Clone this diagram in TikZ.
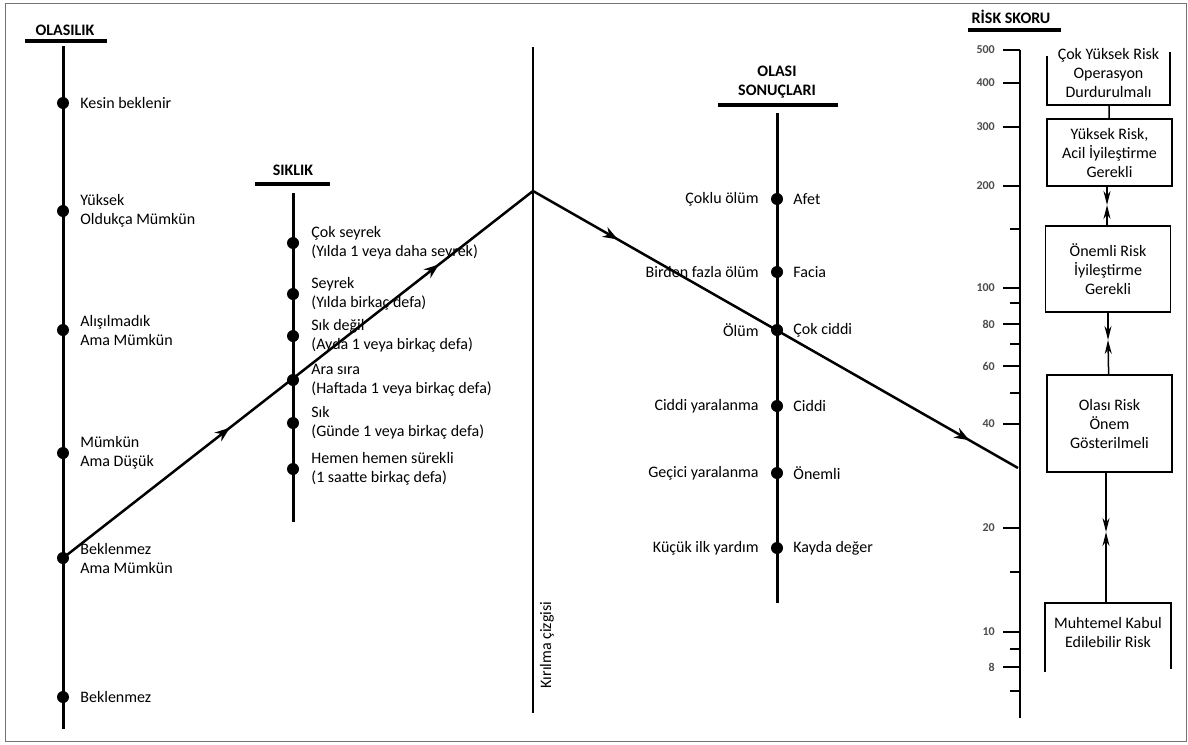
\documentclass[tikz,border=0pt]{standalone}
\usepackage{fontspec}
\setmainfont{Carlito}
\usetikzlibrary{positioning,arrows.meta,decorations.markings}

\begin{document}
\begin{tikzpicture}[x=1pt,y=-1pt,>=Stealth,
  every node/.style={font=\fontsize{16}{19}\selectfont},
  dot/.style={circle,fill,inner sep=0pt,minimum size=12pt},
  lbl/.style={inner sep=0pt,align=left},
  title/.style={font=\fontsize{16}{19}\selectfont\bfseries,inner sep=0pt,align=center},
  axis/.style={line width=3pt},
  uline/.style={line width=4pt},
  tick/.style={line width=2pt},
  tlbl/.style={font=\fontsize{12}{14}\selectfont\bfseries,text=black!70,anchor=east,inner sep=0pt},
  riskbox/.style={draw,line width=1.5pt,align=center,inner sep=0pt,minimum width=125pt},
  boxline/.style={line width=1.5pt},
  meet/.style={line width=1.5pt,-{Stealth[length=14pt,width=7pt]}},
  flow/.style 2 args={line width=2.5pt,postaction={decorate},decoration={markings,
    mark=at position #1 with {\arrow{Stealth[length=15pt,width=11pt]}},
    mark=at position #2 with {\arrow{Stealth[length=15pt,width=11pt]}}}}]

\useasboundingbox (0,0) rectangle (1188,744);
\draw[black!55,line width=1pt] (5,3) rectangle (1186,741);

% olasilik
\node[title] (tolas) at (65,30) {OLASILIK};
\draw[uline] (25,41) -- (107,41);
\draw[axis] (63,46) -- (63,729);
\foreach \nm/\y/\txt in {o1/103/{Kesin beklenir}, o2/211/{Yüksek\\Oldukça Mümkün},
    o3/330/{Alışılmadık\\Ama Mümkün}, o4/453/{Mümkün\\Ama Düşük},
    o5/558/{Beklenmez\\Ama Mümkün}, o6/697/{Beklenmez}}
  {\node[dot] (\nm) at (63,\y) {};
   \node[lbl,right=11pt of \nm] {\txt};}

% siklik
\node[title] (tsik) at (293,170) {SIKLIK};
\draw[uline] (255,184) -- (330,184);
\draw[axis] (293,193) -- (293,522);
\foreach \nm/\y/\txt in {s1/243/{Çok seyrek\\(Yılda 1 veya daha seyrek)},
    s2/294/{Seyrek\\(Yılda birkaç defa)}, s3/336/{Sık değil\\(Ayda 1 veya birkaç defa)},
    s4/380/{Ara sıra\\(Haftada 1 veya birkaç defa)}, s5/423/{Sık\\(Günde 1 veya birkaç defa)},
    s6/469/{Hemen hemen sürekli\\(1 saatte birkaç defa)}}
  {\node[dot] (\nm) at (293,\y) {};
   \node[lbl,right=12pt of \nm] {\txt};}

% kirilma cizgisi
\coordinate (kt) at (533,47);
\coordinate (kb) at (533,713);
\coordinate (apex) at (533,191);
\draw[line width=2pt] (kt) -- (kb);
\node[rotate=90,inner sep=0pt] (klbl) at (547,645) {Kırılma çizgisi};

% olasi sonuclari
\node[title] (tson) at (777,82) {OLASI\\SONUÇLARI};
\draw[uline] (718,105) -- (838,105);
\draw[axis] (777,113) -- (777,603);
\foreach \nm/\y/\lt/\rt in {c1/199/{Çoklu ölüm}/{Afet}, c2/272/{Birden fazla ölüm}/{Facia},
    c3/330/{Ölüm}/{Çok ciddi}, c4/406/{Ciddi yaralanma}/{Ciddi},
    c5/473/{Geçici yaralanma}/{Önemli}, c6/548/{Küçük ilk yardım}/{Kayda değer}}
  {\node[dot] (\nm) at (777,\y) {};
   \node[lbl,left=12pt of \nm] {\lt};
   \node[lbl,right=10pt of \nm] {\rt};}

% risk skoru
\node[title] (trisk) at (1011,17) {RİSK SKORU};
\draw[uline] (968,30) -- (1061,30);
\draw[axis,line width=2.5pt] (1020,50) -- (1020,718);
\coordinate (rend) at (1018,468);
\foreach \y/\v in {50/500,83/400,127/300,186/200,288/100,324/80,366/60,424/40,528/20,632/10,667/8}
  {\draw[tick] (1003,\y) -- (1020,\y);
   \node[tlbl] at (995,\y) {\v};}
\foreach \y in {229,303,344,393,572,649,691}
  \draw[tick] (1010,\y) -- (1020,\y);

\node[align=center,inner sep=0pt] (b1) at (1108.5,73) {Çok Yüksek Risk\\Operasyon\\Durdurulmalı};
\draw[boxline] (1047,56) |- (1109,105) -| (1170,52);
\node[riskbox,minimum height=67pt] (b2) at (1109.5,152.5) {Yüksek Risk,\\Acil İyileştirme\\Gerekli};
\node[riskbox,minimum height=86pt] (b3) at (1108,269) {Önemli Risk\\İyileştirme\\Gerekli};
\node[riskbox,minimum height=97pt] (b4) at (1109.5,423.5) {Olası Risk\\Önem\\Gösterilmeli};
\node[align=center,inner sep=0pt] (b5) at (1108,632) {Muhtemel Kabul\\Edilebilir Risk};
\draw[boxline] (1045,672) |- (1108,603) -| (1171,669);

\coordinate (b1s) at (1109,105);
\coordinate (b5n) at (1106,603);
\coordinate (m23) at (1107,205);
\coordinate (m34) at (1108,340);
\coordinate (m45) at (1106,532);
\draw[boxline] (b1s) -- (b2);
\draw[meet] (b2.south -| m23) -- (m23);
\draw[meet] (b3.north -| m23) -- (m23);
\draw[meet] (b3) -- (m34);
\draw[meet] (b4) -- (m34);
\draw[meet] (b4.south -| m45) -- (m45);
\draw[meet] (b5n) -- (m45);

% risk yolu
\draw[flow={0.355}{0.80}] (o5.center) -- (apex);
\draw[flow={0.175}{0.90}] (apex) -- (rend);
\end{tikzpicture}
\end{document}
